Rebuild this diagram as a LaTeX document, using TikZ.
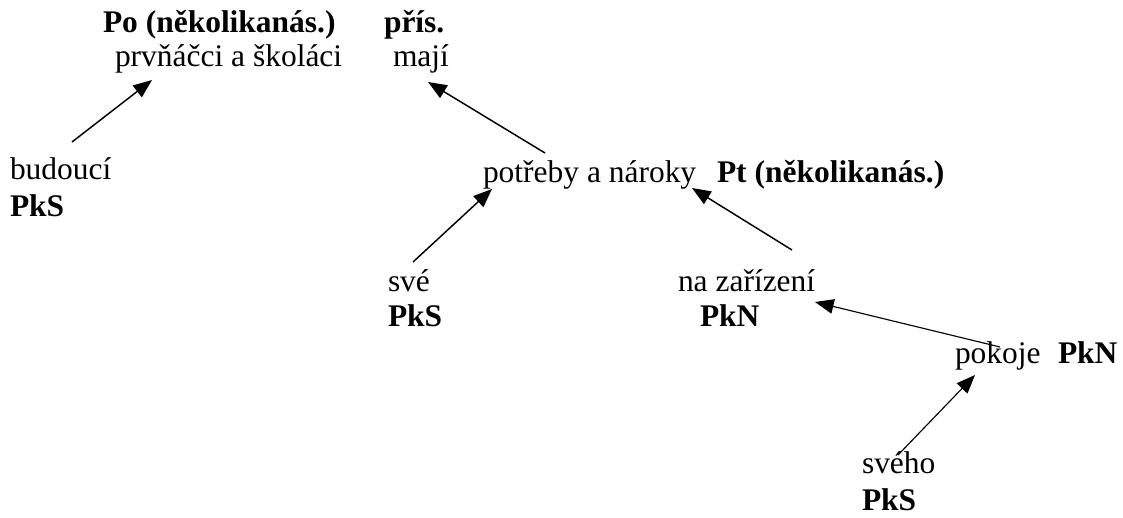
\documentclass[tikz,border=0pt]{standalone}
\usepackage{fontspec}
\setmainfont{Liberation Serif}
\usetikzlibrary{arrows.meta}
\begin{document}
\begin{tikzpicture}[x=0.75pt,y=-0.75pt,
  lbl/.style={anchor=base west,inner sep=0pt,outer sep=0pt,font=\fontsize{23.6pt}{27.75pt}\selectfont},
  tag/.style={lbl,font=\fontsize{23.6pt}{27.75pt}\selectfont\bfseries},
  arr/.style={-{Triangle[length=14pt,width=11pt]},line width=1.1pt},
  thinarr/.style={arr,line width=0.85pt}]
\useasboundingbox (0,0) rectangle (1123,517);
% top row
\node[tag] (po)   at (103,33) {Po (několikanás.)};
\node[tag] (pris) at (384,33) {přís.};
\node[lbl] (prv)  at (115,67) {prvňáčci a školáci};
\node[lbl] (maji) at (393,67) {mají};
% left
\node[lbl] (budouci) at (10,179) {budoucí};
\node[tag] (pks1)    at (10,216) {PkS};
% middle
\node[lbl] (potreby) at (483,182) {potřeby a nároky};
\node[tag] (pt)      at (717,182) {Pt (několikanás.)};
\node[lbl] (sve)     at (388,291) {své};
\node[tag] (pks2)    at (388,326) {PkS};
\node[lbl] (nazar)   at (678,291) {na zařízení};
\node[tag] (pkn1)    at (700,326) {PkN};
% right
\node[lbl] (pokoje)  at (955,363) {pokoje};
\node[tag] (pkn2)    at (1058,363) {PkN};
\node[lbl] (sveho)   at (862,473) {svého};
\node[tag] (pks3)    at (862,510) {PkS};
% arrows
\draw[arr] ([shift={(62,-37)}]budouci.base west) -- ([shift={(37,13)}]prv.base west);
\draw[arr] ([shift={(62,-29)}]potreby.base west) -- ([shift={(35,15)}]maji.base west);
\draw[arr] ([shift={(25,-29)}]sve.base west) -- ([shift={(9,7)}]potreby.base west);
\draw[arr] ([shift={(114,-41)}]nazar.base west) -- ([shift={(209,6)}]potreby.base west);
\draw[thinarr] ([shift={(45,-16)}]pokoje.base west) -- ([shift={(137,11)}]nazar.base west);
\draw[thinarr] ([shift={(36,-18)}]sveho.base west) -- ([shift={(20,12)}]pokoje.base west);
\end{tikzpicture}
\end{document}
